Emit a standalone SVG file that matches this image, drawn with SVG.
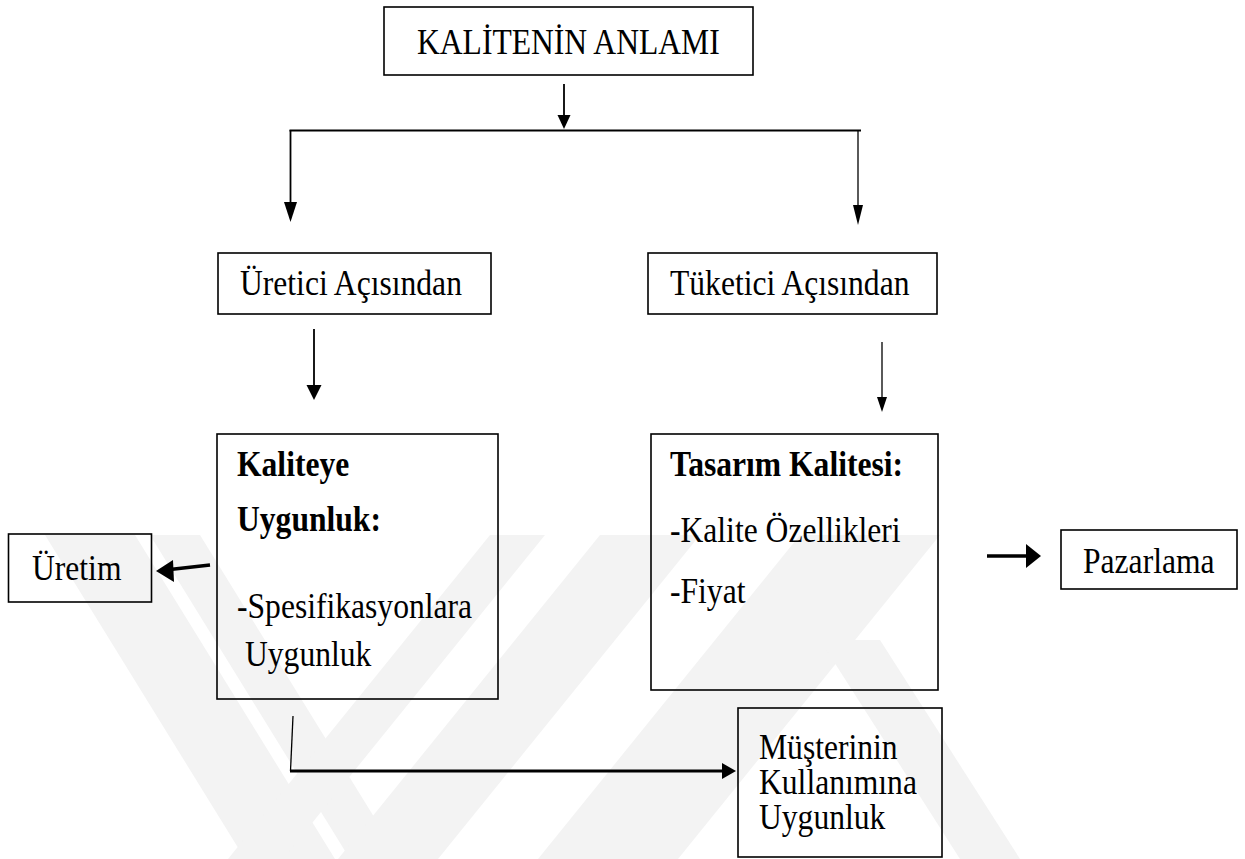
<svg xmlns="http://www.w3.org/2000/svg" width="1245" height="859" viewBox="0 0 1245 859">
  <style>
    .box { fill: none; stroke: #000; stroke-width: 1.6; }
    .t { font-family: "Liberation Serif", "Times New Roman", serif; font-size: 31.6px; fill: #000; }
    .b { font-weight: bold; }
    .ln { fill: none; stroke: #000; stroke-width: 1.8; }
    .thin { stroke-width: 1.3; }
    .thick { stroke-width: 3.5; }
    .head { fill: #000; stroke: none; }
    .wm { fill: #f3f3f3; stroke: none; }
  </style>

  <rect width="1245" height="859" fill="#fff"/>

  <!-- faint background mark -->
  <g id="watermark">
    <polygon class="wm" points="45,535 135,535 335,859 245,859"/>
    <polygon class="wm" points="150,535 200,535 400,859 350,859"/>
    <polygon class="wm" points="490,535 545,535 283,859 228,859"/>
    <polygon class="wm" points="600,535 700,535 438,859 338,859"/>
    <polygon class="wm" points="800,535 940,535 678,859 538,859"/>
    <polygon class="wm" points="820,640 880,640 1020,859 960,859"/>
  </g>

  <g id="connectors">
    <!-- title to split -->
    <line class="ln" x1="564" y1="84" x2="564" y2="116"/>
    <polygon class="head" points="557.5,115 570.5,115 564,129"/>
    <line class="ln" x1="289.5" y1="130.5" x2="861" y2="130.5"/>
    <line class="ln" x1="290.5" y1="130" x2="290.5" y2="204"/>
    <polygon class="head" points="284,202 297,202 290.5,222"/>
    <line class="ln thin" x1="858" y1="130" x2="858" y2="207"/>
    <polygon class="head" points="853,205 863,205 858,225"/>
    <!-- viewpoint boxes to definitions -->
    <line class="ln" x1="314" y1="329" x2="314" y2="386"/>
    <polygon class="head" points="306.5,385 321.5,385 314,400"/>
    <line class="ln thin" x1="882" y1="342" x2="882" y2="398"/>
    <polygon class="head" points="877,397 887,397 882,412"/>
    <!-- side arrows -->
    <line class="ln thick" x1="210" y1="565" x2="170" y2="569.5"/>
    <polygon class="head" points="156,571 173,560 174,582"/>
    <line class="ln thick" x1="987" y1="556" x2="1028" y2="556"/>
    <polygon class="head" points="1041,556 1026,544 1026,568"/>
    <!-- bottom elbow -->
    <line class="ln thin" x1="293" y1="716" x2="290.5" y2="771"/>
    <line class="ln" style="stroke-width:3" x1="290" y1="771" x2="722" y2="771"/>
    <polygon class="head" points="722,763 722,779 736,771"/>
  </g>

  <g id="node-title">
    <rect class="box" x="384" y="7" width="369" height="68"/>
    <text class="t" transform="matrix(1 0 0 1.1 417 54)">KALİTENİN ANLAMI</text>
  </g>

  <g id="node-uretici">
    <rect class="box" x="218" y="253" width="273" height="61"/>
    <text class="t" transform="matrix(1 0 0 1.1 240 295)">Üretici Açısından</text>
  </g>

  <g id="node-tuketici">
    <rect class="box" x="648" y="253" width="289" height="61"/>
    <text class="t" transform="matrix(1 0 0 1.1 670 295)">Tüketici Açısından</text>
  </g>

  <g id="node-kaliteye-uygunluk">
    <rect class="box" x="217" y="434" width="281" height="265"/>
    <text class="t b" transform="matrix(1 0 0 1.1 237 476)">Kaliteye</text>
    <text class="t b" transform="matrix(1 0 0 1.1 237 531)">Uygunluk:</text>
    <text class="t" transform="matrix(1 0 0 1.1 237 618)">-Spesifikasyonlara</text>
    <text class="t" transform="matrix(1 0 0 1.1 245 666)">Uygunluk</text>
  </g>

  <g id="node-tasarim">
    <rect class="box" x="651" y="434" width="287" height="256"/>
    <text class="t b" transform="matrix(1 0 0 1.1 670 476)">Tasarım Kalitesi:</text>
    <text class="t" transform="matrix(1 0 0 1.1 670 542)">-Kalite Özellikleri</text>
    <text class="t" transform="matrix(1 0 0 1.1 670 603)">-Fiyat</text>
  </g>

  <g id="node-uretim">
    <rect class="box" x="8.5" y="534" width="143" height="68"/>
    <text class="t" transform="matrix(1 0 0 1.1 32 580)">Üretim</text>
  </g>

  <g id="node-pazarlama">
    <rect class="box" x="1061" y="530" width="176" height="59"/>
    <text class="t" transform="matrix(1 0 0 1.1 1083 573)">Pazarlama</text>
  </g>

  <g id="node-musteri">
    <rect class="box" x="738" y="708" width="204" height="149"/>
    <text class="t" transform="matrix(1 0 0 1.1 759 759)">Müşterinin</text>
    <text class="t" transform="matrix(1 0 0 1.1 759 794)">Kullanımına</text>
    <text class="t" transform="matrix(1 0 0 1.1 759 829)">Uygunluk</text>
  </g>
</svg>
